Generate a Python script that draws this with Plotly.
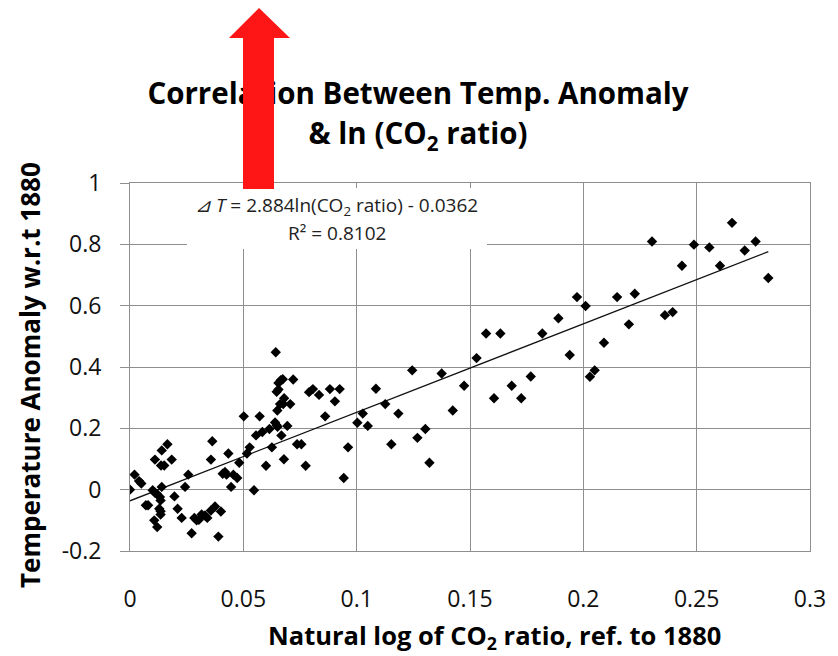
import plotly.graph_objects as go

# ---------------- data ----------------
ln_co2_ratio = [
    0.000, 0.002, 0.004, 0.005, 0.007, 0.008, 0.010, 0.011, 0.012, 0.011,
    0.014, 0.0165, 0.0137, 0.0151, 0.0184, 0.014, 0.0132, 0.0135, 0.0129, 0.0135,
    0.0135, 0.0107, 0.012, 0.0196, 0.021, 0.0228, 0.0243, 0.0257, 0.0272, 0.0284,
    0.0294, 0.0304, 0.0316, 0.0331, 0.0341, 0.0357, 0.0375, 0.0401, 0.039, 0.0363,
    0.0357, 0.0409, 0.0419, 0.0426, 0.0434, 0.0446, 0.0456, 0.0473, 0.0482,
    0.0502, 0.0516, 0.0528, 0.0547, 0.0556, 0.0572, 0.0584, 0.060, 0.0615, 0.0626,
    0.0640, 0.0643, 0.0647, 0.0651, 0.0650, 0.0647, 0.0655, 0.0655, 0.0665, 0.0674,
    0.0662, 0.0676, 0.0680, 0.0668, 0.0679, 0.0694, 0.0707, 0.0720, 0.0737, 0.0756,
    0.0775, 0.0790, 0.0807, 0.0834, 0.0861, 0.0882, 0.0904, 0.0925, 0.0943, 0.0962,
    0.1003, 0.1027, 0.1049, 0.1085, 0.1126, 0.1153, 0.1184, 0.1245, 0.1268, 0.1303,
    0.1321, 0.1375, 0.1424, 0.1474, 0.1529, 0.1571, 0.1606, 0.1634, 0.1684, 0.1726,
    0.1768, 0.1819, 0.1890, 0.1940, 0.1972, 0.2010, 0.2029, 0.2050, 0.2091, 0.2149,
    0.2201, 0.2227, 0.2303, 0.2360, 0.2394, 0.2435, 0.2488, 0.2556, 0.2603, 0.2656,
    0.2712, 0.2760, 0.2816,
]
temp_anomaly = [
    0.000, 0.049, 0.028, 0.020, -0.051, -0.051, -0.002, -0.010, -0.015, 0.098,
    0.128, 0.148, 0.079, 0.079, 0.098, 0.009, -0.024, -0.035, -0.062, -0.070,
    -0.081, -0.100, -0.122, -0.022, -0.062, -0.092, 0.009, 0.049, -0.142, -0.092,
    -0.100, -0.098, -0.081, -0.084, -0.092, -0.068, -0.055, -0.071, -0.153, 0.158,
    0.098, 0.052, 0.058, 0.049, 0.118, 0.009, 0.049, 0.038, 0.088,
    0.239, 0.118, 0.138, -0.002, 0.177, 0.239, 0.188, 0.078, 0.198, 0.138,
    0.219, 0.448, 0.210, 0.205, 0.258, 0.319, 0.327, 0.348, 0.357, 0.360,
    0.279, 0.279, 0.298, 0.177, 0.099, 0.208, 0.279, 0.359, 0.148, 0.148,
    0.078, 0.318, 0.328, 0.309, 0.239, 0.328, 0.288, 0.328, 0.038, 0.138,
    0.218, 0.248, 0.208, 0.329, 0.279, 0.148, 0.248, 0.389, 0.169, 0.198,
    0.088, 0.379, 0.258, 0.339, 0.429, 0.509, 0.298, 0.509, 0.339, 0.298,
    0.369, 0.509, 0.559, 0.439, 0.628, 0.599, 0.368, 0.389, 0.479, 0.628,
    0.539, 0.639, 0.809, 0.569, 0.579, 0.730, 0.799, 0.790, 0.730, 0.870,
    0.780, 0.809, 0.690,
]

# trend line from the equation shown on the chart
trend_slope = 2.884
trend_intercept = -0.0362

x_tick_vals = [0, 0.05, 0.1, 0.15, 0.2, 0.25, 0.3]
x_tick_text = ["0", "0.05", "0.1", "0.15", "0.2", "0.25", "0.3"]
y_tick_vals = [-0.2, 0, 0.2, 0.4, 0.6, 0.8, 1.0]
y_tick_text = ["-0.2", "0", "0.2", "0.4", "0.6", "0.8", "1"]

title_lines = ["Correlation Between Temp. Anomaly", "& ln (CO<sub>2</sub> ratio)"]
x_title = "Natural log of CO<sub>2</sub> ratio, ref. to 1880"
y_title = "Temperature Anomaly w.r.t 1880"
eq_line1 = "<i>⊿ T</i> = 2.884ln(CO<sub>2</sub> ratio) - 0.0362"
eq_line2 = "R² = 0.8102"

# ---------------- layout geometry (pixels; paper = whole figure) ----------------
W, H = 838, 656
PLOT_L, PLOT_R, PLOT_T, PLOT_B = 130, 810, 183, 551


def px(xp):
    return xp / W


def py(yp):
    return 1 - yp / H


FONT = "'Open Sans', Lato, sans-serif"
GRID = "#8e8e8e"

trend_x = [0.0, max(ln_co2_ratio)]
trend_y = [trend_slope * v + trend_intercept for v in trend_x]

fig = go.Figure()

fig.add_trace(go.Scatter(
    x=trend_x, y=trend_y, mode="lines",
    line=dict(color="#111111", width=1.3),
    showlegend=False, hoverinfo="skip", xaxis="x", yaxis="y",
))

fig.add_trace(go.Scatter(
    x=ln_co2_ratio, y=temp_anomaly, mode="markers",
    marker=dict(symbol="diamond", size=8, color="#000000", line=dict(width=0)),
    showlegend=False, xaxis="x", yaxis="y",
))

# chart title, drawn as text in an invisible strip above the plot so that
# the red arrow (a shape on the upper layer) can cover part of it
fig.add_trace(go.Scatter(
    x=[418, 418], y=[97, 137], mode="text",
    text=title_lines, textposition="middle center",
    textfont=dict(family=FONT, size=29.5, color="#000000", weight="bold"),
    cliponaxis=False, showlegend=False, hoverinfo="skip",
    xaxis="x2", yaxis="y2",
))

fig.update_layout(
    width=W, height=H,
    margin=dict(l=0, r=0, t=0, b=0, pad=0, autoexpand=False),
    paper_bgcolor="white", plot_bgcolor="white",
    font=dict(family=FONT, color="#000000"),
    showlegend=False,
    xaxis=dict(
        domain=[px(PLOT_L), px(PLOT_R)], anchor="y",
        range=[0, 0.3], tickvals=x_tick_vals, ticktext=x_tick_text,
        showgrid=True, gridcolor=GRID, gridwidth=1,
        showline=True, linecolor=GRID, linewidth=1, mirror=True,
        ticks="", zeroline=False,
        tickfont=dict(family=FONT, size=23, color="#111111"),
        ticklabelstandoff=27,
    ),
    yaxis=dict(
        domain=[py(PLOT_B), py(PLOT_T)], anchor="x",
        range=[-0.2, 1.0], tickvals=y_tick_vals, ticktext=y_tick_text,
        showgrid=True, gridcolor=GRID, gridwidth=1,
        showline=True, linecolor=GRID, linewidth=1, mirror=True,
        ticks="outside", ticklen=9, tickcolor=GRID, zeroline=False,
        tickfont=dict(family=FONT, size=23, color="#111111"),
        ticklabelstandoff=14,
    ),
    xaxis2=dict(domain=[px(PLOT_L), px(PLOT_R)], anchor="y2",
                range=[PLOT_L, PLOT_R], visible=False, fixedrange=True),
    yaxis2=dict(domain=[py(PLOT_T), 1], anchor="x2",
                range=[PLOT_T, 0], visible=False, fixedrange=True),
)

shapes = []
# white box behind the equation (hides grid lines)
shapes.append(dict(
    type="rect", xref="paper", yref="paper",
    x0=px(187), x1=px(487), y0=py(249), y1=py(188),
    fillcolor="white", line=dict(width=0), layer="above",
))
# red upward arrow
arrow_pts = [(259, 8), (290, 38), (274, 38), (274, 189), (243, 189), (243, 38), (229, 38)]
path = "M " + " L ".join(f"{px(a):.5f},{py(b):.5f}" for a, b in arrow_pts) + " Z"
shapes.append(dict(
    type="path", xref="paper", yref="paper", path=path,
    fillcolor="#fe1515", line=dict(width=0), layer="above",
))
fig.update_layout(shapes=shapes)

annotations = [
    dict(text=eq_line1, x=px(336), y=py(206), xref="paper", yref="paper",
         showarrow=False, xanchor="center", yanchor="middle",
         font=dict(family=FONT, size=19, color="#222222")),
    dict(text=eq_line2, x=px(337), y=py(233), xref="paper", yref="paper",
         showarrow=False, xanchor="center", yanchor="middle",
         font=dict(family=FONT, size=19, color="#222222")),
    dict(text=x_title, x=px(494), y=0, xref="paper", yref="paper",
         showarrow=False, xanchor="center", yanchor="bottom", borderpad=0,
         font=dict(family=FONT, size=25.5, color="#000000", weight="bold")),
    dict(text=y_title, x=px(30), y=py(375), xref="paper", yref="paper",
         showarrow=False, xanchor="center", yanchor="middle", textangle=-90,
         font=dict(family=FONT, size=26, color="#000000", weight="bold")),
]
fig.update_layout(annotations=annotations)

fig.write_html("out.html")
